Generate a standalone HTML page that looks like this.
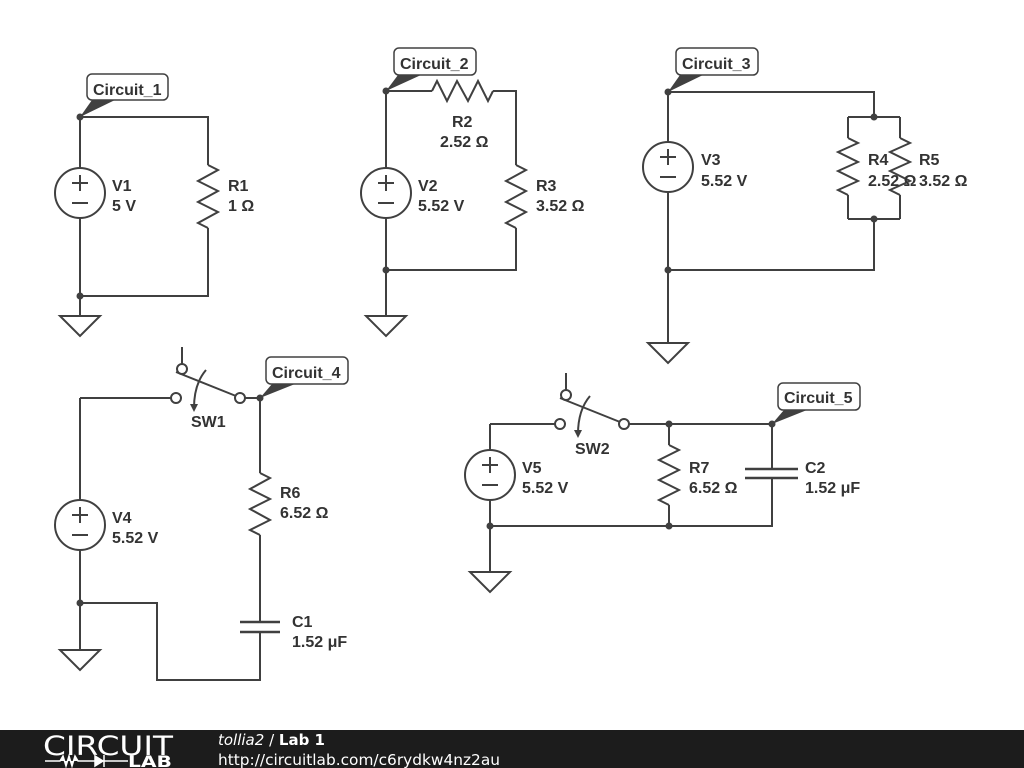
<!DOCTYPE html>
<html><head><meta charset="utf-8"><style>
html,body{margin:0;padding:0;background:#fff;width:1024px;height:768px;overflow:hidden}
svg{display:block}
text{font-family:"Liberation Sans",sans-serif;font-weight:bold;font-size:16px;fill:#333}
</style></head><body>
<svg width="1024" height="768" viewBox="0 0 1024 768">
<g fill="none" stroke="#404040" stroke-width="2">
<!-- Circuit 1 -->
<path d="M80 117V168M80 218V316M80 117H208V165M208 228V296H80"/>
<polyline points="208,165 218,170 198,181 218,191 198,202 218,212 198,223 208,228"/>
<circle cx="80" cy="193" r="25"/>
<path d="M72 183H88M80 175V191M72 203H88"/>
<path d="M60 316H100L80 336Z"/>
<!-- Circuit 2 -->
<path d="M386 91V168M386 218V316M386 91H432M493 91H516V165M516 228V270H386"/>
<polyline points="432,91 437,81 447,101 457,81 468,101 478,81 488,101 493,91"/>
<polyline points="516,165 526,170 506,181 526,191 506,202 526,212 506,223 516,228"/>
<circle cx="386" cy="193" r="25"/>
<path d="M378 183H394M386 175V191M378 203H394"/>
<path d="M366 316H406L386 336Z"/>
<!-- Circuit 3 -->
<path d="M668 92V142M668 192V343M668 92H874V117M848 117H900M848 117V138M900 117V138M848 195V219M900 195V219M848 219H900M874 219V270H668"/>
<polyline points="848,138 858,143 838,152 858,162 838,171 858,181 838,190 848,195"/>
<polyline points="900,138 910,143 890,152 910,162 890,171 910,181 890,190 900,195"/>
<circle cx="668" cy="167" r="25"/>
<path d="M660 157H676M668 149V165M660 177H676"/>
<path d="M648 343H688L668 363Z"/>
<!-- Circuit 4 -->
<path d="M80 398V500M80 550V650M80 398H171M245 398H260V473M260 535V622M260 632V680H157V603H80"/>
<path d="M240 622H280M240 632H280" stroke-width="2.5"/>
<polyline points="260,473 270,478 250,489 270,499 250,509 270,520 250,530 260,535"/>
<circle cx="80" cy="525" r="25"/>
<path d="M72 515H88M80 507V523M72 535H88"/>
<path d="M60 650H100L80 670Z"/>
<circle cx="176" cy="398" r="5"/><circle cx="240" cy="398" r="5"/><circle cx="182" cy="369" r="5"/>
<path d="M182 364V347M176 372L236 396"/>
<path d="M206 370Q194 384 194 408"/>
<!-- Circuit 5 -->
<path d="M490 424V450M490 500V572M490 424H555M629 424H772V469M772 478V526H490M669 424V445M669 505V526"/>
<path d="M745 469H798M745 478H798" stroke-width="2.5"/>
<polyline points="669,445 679,450 659,460 679,470 659,480 679,490 659,500 669,505"/>
<circle cx="490" cy="475" r="25"/>
<path d="M482 465H498M490 457V473M482 485H498"/>
<path d="M470 572H510L490 592Z"/>
<circle cx="560" cy="424" r="5"/><circle cx="624" cy="424" r="5"/><circle cx="566" cy="395" r="5"/>
<path d="M566 390V373M560 398L620 422"/>
<path d="M590 396Q578 410 578 434"/>
<!-- label boxes -->
<rect x="87" y="74" width="81" height="26" rx="5" fill="#fff" stroke-width="1.5"/>
<rect x="394" y="48" width="82" height="27" rx="5" fill="#fff" stroke-width="1.5"/>
<rect x="676" y="48" width="82" height="27" rx="5" fill="#fff" stroke-width="1.5"/>
<rect x="266" y="357" width="82" height="27" rx="5" fill="#fff" stroke-width="1.5"/>
<rect x="778" y="383" width="82" height="27" rx="5" fill="#fff" stroke-width="1.5"/>
</g>
<g fill="#404040">
<path d="M80 117L92 100H115Z"/>
<path d="M386 91L398 75H421Z"/>
<path d="M668 92L680 75H703Z"/>
<path d="M260 398L272 384H295Z"/>
<path d="M772 424L784 410H807Z"/>
<path d="M190 404L194 412L198 404Z"/>
<path d="M574 430L578 438L582 430Z"/>
<circle cx="80" cy="117" r="3.5"/><circle cx="80" cy="296" r="3.5"/>
<circle cx="386" cy="91" r="3.5"/><circle cx="386" cy="270" r="3.5"/>
<circle cx="668" cy="92" r="3.5"/><circle cx="668" cy="270" r="3.5"/>
<circle cx="874" cy="117" r="3.5"/><circle cx="874" cy="219" r="3.5"/>
<circle cx="260" cy="398" r="3.5"/><circle cx="80" cy="603" r="3.5"/>
<circle cx="669" cy="424" r="3.5"/><circle cx="772" cy="424" r="3.5"/>
<circle cx="490" cy="526" r="3.5"/><circle cx="669" cy="526" r="3.5"/>
</g>
<text x="93" y="95">Circuit_1</text>
<text x="400" y="69">Circuit_2</text>
<text x="682" y="69">Circuit_3</text>
<text x="272" y="378">Circuit_4</text>
<text x="784" y="403">Circuit_5</text>
<text x="112" y="191">V1</text><text x="112" y="211">5 V</text>
<text x="228" y="191">R1</text><text x="228" y="211">1 Ω</text>
<text x="418" y="191">V2</text><text x="418" y="211">5.52 V</text>
<text x="452" y="127">R2</text><text x="440" y="147">2.52 Ω</text>
<text x="536" y="191">R3</text><text x="536" y="211">3.52 Ω</text>
<text x="701" y="165">V3</text><text x="701" y="186">5.52 V</text>
<text x="868" y="165">R4</text><text x="868" y="186">2.52 Ω</text>
<text x="919" y="165">R5</text><text x="919" y="186">3.52 Ω</text>
<text x="191" y="427">SW1</text>
<text x="280" y="498">R6</text><text x="280" y="518">6.52 Ω</text>
<text x="112" y="523">V4</text><text x="112" y="543">5.52 V</text>
<text x="292" y="627">C1</text><text x="292" y="647">1.52 μF</text>
<text x="575" y="454">SW2</text>
<text x="522" y="473">V5</text><text x="522" y="493">5.52 V</text>
<text x="689" y="473">R7</text><text x="689" y="493">6.52 Ω</text>
<text x="805" y="473">C2</text><text x="805" y="493">1.52 μF</text>
<rect x="0" y="730" width="1024" height="38" fill="#1c1c1c"/>
<text x="43" y="755" style="font-family:'DejaVu Sans',sans-serif;font-weight:normal;font-size:27px;fill:#fff" textLength="130" lengthAdjust="spacingAndGlyphs">CIRCUIT</text>
<path d="M45 761H60L63 756L66 766L69 756L72 766L75 756L78 761H95M95 756L103 761L95 766ZM104 755V767M104 761H128" stroke="#fff" stroke-width="1.5" fill="#fff"/>
<text x="128" y="767" style="font-family:'DejaVu Sans',sans-serif;font-size:16px;fill:#fff" textLength="44" lengthAdjust="spacingAndGlyphs">LAB</text>
<text x="218" y="745" style="font-family:'DejaVu Sans',sans-serif;font-size:15px;fill:#fff"><tspan style="font-style:italic;font-weight:normal">tollia2</tspan><tspan style="font-weight:normal"> / </tspan>Lab 1</text>
<text x="218" y="765" style="font-family:'DejaVu Sans',sans-serif;font-weight:normal;font-size:15px;fill:#fff" textLength="282" lengthAdjust="spacingAndGlyphs">http://circuitlab.com/c6rydkw4nz2au</text>
</svg>
</body></html>
